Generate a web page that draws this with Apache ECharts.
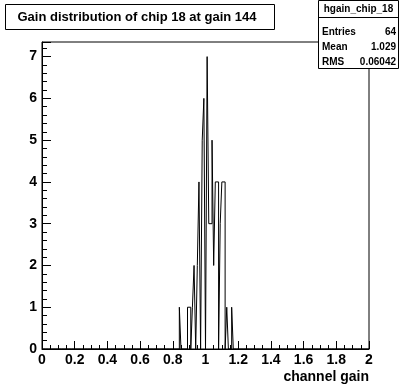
<!DOCTYPE html>
<html>
<head>
<meta charset="utf-8">
<script src="https://cdn.jsdelivr.net/npm/echarts@6/dist/echarts.min.js"></script>
<style>
  html, body { margin: 0; padding: 0; background: #fff; }
  #chart { width: 400px; height: 384px; }
</style>
</head>
<body>
<div id="chart"></div>
<script>
// histogram contents, bin width 0.01 over [0, 2]
const binLow = [0.84, 0.89, 0.90, 0.92, 0.93, 0.95, 0.96, 0.98, 0.99, 1.01, 1.02, 1.03, 1.04, 1.05, 1.06, 1.07, 1.09, 1.10, 1.11, 1.13, 1.16];
const binCounts = [1, 1, 1, 1, 2, 2, 4, 5, 6, 7, 3, 3, 5, 2, 4, 4, 3, 4, 4, 1, 1];
const statsRows = [['Entries', '64'], ['Mean', '1.029'], ['RMS', '0.06042']];

const font = '"Liberation Sans", Arial, sans-serif';
const nBins = 200, binWidth = 0.01;

const lookup = {};
binLow.forEach((v, i) => { lookup[Math.round(v * 100)] = binCounts[i]; });
// outline of the histogram: each bin contributes its two top corners
const histData = [[0, 0]];
for (let i = 0; i < nBins; i++) {
  const c = lookup[i] || 0;
  histData.push([i * binWidth, c], [(i + 1) * binWidth, c]);
}
histData.push([2, 0]);

const chart = echarts.init(document.getElementById('chart'));

const statsGraphic = [
  { type: 'rect', shape: { x: 318.5, y: 0.5, width: 80, height: 68 },
    style: { fill: '#fff', stroke: '#000', lineWidth: 1 }, z: 100 },
  { type: 'line', shape: { x1: 318.5, y1: 17.5, x2: 398.5, y2: 17.5 },
    style: { stroke: '#000', lineWidth: 1 }, z: 101 },
  { type: 'text', x: 358.5, y: 9, z: 101,
    style: { text: 'hgain_chip_18', font: 'bold 10px ' + font, fill: '#000', align: 'center', verticalAlign: 'middle' } }
];
statsRows.forEach((r, i) => {
  const y = 32 + i * 15;
  statsGraphic.push({ type: 'text', x: 322, y: y, z: 101,
    style: { text: r[0], font: 'bold 10px ' + font, fill: '#000', align: 'left', verticalAlign: 'middle' } });
  statsGraphic.push({ type: 'text', x: 396, y: y, z: 101,
    style: { text: r[1], font: 'bold 10px ' + font, fill: '#000', align: 'right', verticalAlign: 'middle' } });
});

chart.setOption({
  animation: false,
  grid: { left: 42, right: 31, top: 42, bottom: 32, show: true, borderColor: '#000', borderWidth: 1, backgroundColor: 'transparent' },
  xAxis: {
    type: 'value', min: 0, max: 2, interval: 0.2,
    name: 'channel gain', nameLocation: 'end',
    nameGap: 0,
    nameTextStyle: { fontFamily: font, fontWeight: 'bold', fontSize: 14, color: '#000', align: 'right', verticalAlign: 'top', padding: [21, 0, 0, 0] },
    axisLine: { lineStyle: { color: '#000', width: 1 } },
    axisTick: { inside: true, length: 8, lineStyle: { color: '#000' } },
    minorTick: { show: true, splitNumber: 4, length: 4, lineStyle: { color: '#000' } },
    splitLine: { show: false },
    axisLabel: { fontFamily: font, fontWeight: 'bold', fontSize: 14, color: '#000', margin: 4,
      formatter: v => String(Math.round(v * 10) / 10) }
  },
  yAxis: {
    type: 'value', min: 0, max: 7.35, interval: 1,
    axisLine: { show: true, lineStyle: { color: '#000', width: 1 } },
    axisTick: { inside: true, length: 9, lineStyle: { color: '#000' } },
    minorTick: { show: true, splitNumber: 5, length: 5, lineStyle: { color: '#000' } },
    splitLine: { show: false },
    axisLabel: { fontFamily: font, fontWeight: 'bold', fontSize: 14, color: '#000', margin: 5,
      showMaxLabel: false,
      formatter: v => (Math.abs(v - Math.round(v)) < 1e-6 ? String(Math.round(v)) : '') }
  },
  series: [{
    type: 'line', symbol: 'none',
    data: histData,
    lineStyle: { color: '#000', width: 1 },
    clip: true
  }],
  graphic: [
    { type: 'rect', shape: { x: 5.5, y: 4.5, width: 269, height: 25 },
      style: { fill: '#fff', stroke: '#000', lineWidth: 1 }, z: 100 },
    { type: 'text', x: 137, y: 17, z: 101,
      style: { text: 'Gain distribution of chip 18 at gain 144', font: 'bold 13px ' + font, fill: '#000', align: 'center', verticalAlign: 'middle' } }
  ].concat(statsGraphic)
});
</script>
</body>
</html>
